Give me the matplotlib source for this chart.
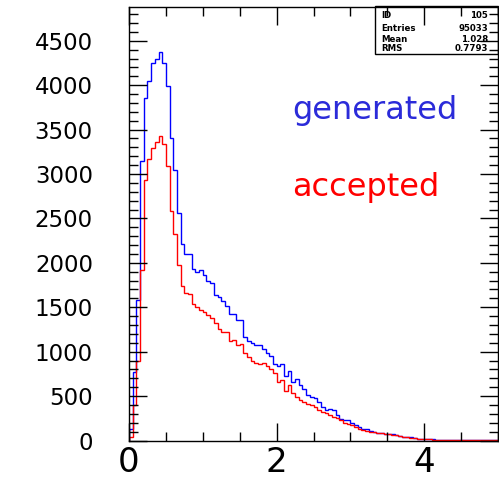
import numpy as np
import matplotlib
matplotlib.use('Agg')
import matplotlib.pyplot as plt
from matplotlib.ticker import MultipleLocator
from matplotlib.patches import Rectangle

# histogram binning (100 bins from 0 to 5)
x_min, x_max, n_bins = 0.0, 5.0, 100

# bin contents
generated = [130, 770, 1580, 3150, 3860, 4050, 4255, 4290, 4375, 4245,
             3990, 3405, 3045, 2565, 2215, 2105, 2100, 1935, 1900, 1920,
             1865, 1800, 1770, 1635, 1620, 1565, 1510, 1425, 1420, 1360,
             1355, 1170, 1115, 1100, 1080, 1075, 1025, 990, 950, 860,
             840, 860, 725, 785, 660, 690, 625, 575, 510, 495,
             480, 435, 380, 345, 350, 340, 285, 240, 235, 230,
             195, 175, 155, 135, 125, 110, 95, 88, 82, 78,
             72, 68, 60, 50, 45, 40, 35, 28, 22, 20,
             18, 14, 12, 10, 9, 8, 7, 6, 6, 5,
             5, 4, 4, 3, 3, 3, 2, 2, 2, 1]

accepted = [40, 400, 890, 1920, 2930, 3170, 3290, 3360, 3430, 3335,
            3090, 2580, 2320, 1975, 1740, 1665, 1650, 1540, 1500, 1470,
            1450, 1410, 1375, 1320, 1250, 1225, 1225, 1115, 1130, 1075,
            1085, 985, 945, 900, 875, 860, 870, 840, 800, 755,
            660, 680, 560, 625, 530, 495, 455, 435, 415, 400,
            380, 345, 325, 305, 285, 270, 250, 230, 200, 185,
            175, 150, 135, 118, 105, 98, 92, 86, 80, 75,
            70, 65, 58, 50, 44, 38, 32, 26, 21, 18,
            16, 13, 11, 9, 8, 7, 6, 5, 5, 4,
            4, 3, 3, 3, 2, 2, 2, 1, 1, 1]

# stats box rows
stat_names = ['ID', 'Entries', 'Mean', 'RMS']
stat_values = ['105', '95033', '1.028', '0.7793']

W, H = 499, 479
fig = plt.figure(figsize=(W / 100, H / 100), dpi=100)
ax = fig.add_axes([129 / W, 1 - 440.5 / H, 369 / W, 433.5 / H])

edges = np.linspace(x_min, x_max, n_bins + 1)
ax.stairs(generated, edges, color='blue', lw=1.0)
ax.stairs(accepted, edges, color='red', lw=1.0)

ax.set_xlim(x_min, x_max)
ax.set_ylim(0, 4880)
ax.xaxis.set_major_locator(MultipleLocator(2))
ax.xaxis.set_minor_locator(MultipleLocator(0.5))
ax.yaxis.set_major_locator(MultipleLocator(500))
ax.yaxis.set_minor_locator(MultipleLocator(100))
ax.tick_params(which='both', direction='in', top=True, right=True, width=1)
ax.tick_params(which='major', length=13)
ax.tick_params(which='minor', length=6.5)
ax.tick_params(axis='x', labelsize=24.5, pad=4)
ax.tick_params(axis='y', labelsize=16.5, pad=26)
for s in ax.spines.values():
    s.set_linewidth(1.0)

# legend-like labels
fig.text(292 / W, 1 - 119 / H, 'generated', color='#2b2bd9', fontsize=23)
fig.text(292 / W, 1 - 196 / H, 'accepted', color='red', fontsize=23)

# stats box
fig.add_artist(Rectangle((375 / W, 1 - 54 / H), 123 / W, 48 / H,
                         transform=fig.transFigure, fill=False, lw=1.0, ec='black'))
row_y = [15.7, 28.3, 39.0, 48.3]
for name, val, yy in zip(stat_names, stat_values, row_y):
    fig.text(381 / W, 1 - yy / H, name, fontsize=6.2, fontweight='bold', va='center')
    fig.text(488 / W, 1 - yy / H, val, fontsize=6.2, fontweight='bold', va='center', ha='right')

fig.savefig('out.png', dpi=100)
